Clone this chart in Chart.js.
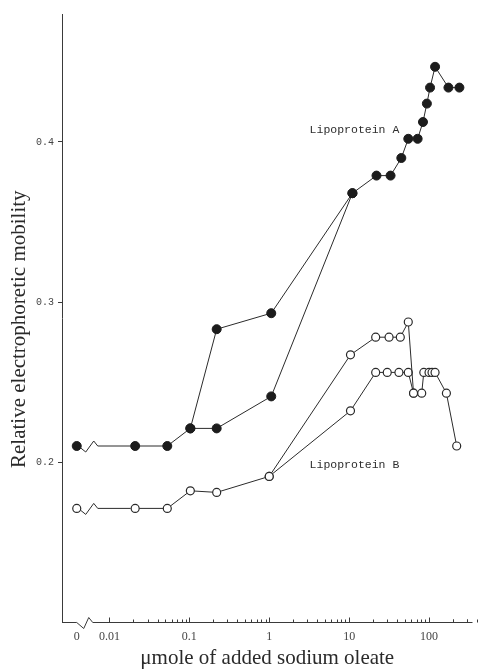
<!DOCTYPE html>
<html>
<head>
<meta charset="utf-8">
<script src="https://cdn.jsdelivr.net/npm/chart.js@4.4.0/dist/chart.umd.min.js"></script>
<style>
html, body { margin: 0; padding: 0; background: #fff; }
canvas { display: block; }
</style>
</head>
<body>
<canvas id="chart" width="478" height="671"></canvas>
<script>
// Data: x = umole of added sodium oleate (0 = none added), y = relative mobility
// Lipoprotein A, upper path and the lower branch that rejoins at ~10
const aUpperX = [0, 0.021, 0.053, 0.103, 0.22, 1.06, 11, 22, 33, 45, 55, 72, 84, 94, 103, 119, 175, 240];
const aUpperY = [0.21, 0.21, 0.21, 0.221, 0.283, 0.293, 0.368, 0.379, 0.379, 0.39, 0.402, 0.402, 0.4125, 0.424, 0.434, 0.447, 0.434, 0.434];
const aLowerX = [0.103, 0.22, 1.06, 11];
const aLowerY = [0.221, 0.221, 0.241, 0.368];

// Lipoprotein B, upper and lower paths
const bUpperX = [0, 0.021, 0.053, 0.103, 0.22, 1.0, 10.4, 21.5, 31.6, 43.7, 55, 64];
const bUpperY = [0.171, 0.171, 0.171, 0.182, 0.181, 0.191, 0.267, 0.278, 0.278, 0.278, 0.2875, 0.243];
const bLowerX = [1.0, 10.4, 21.5, 30, 42, 55, 64, 81, 86, 100, 109, 119, 165, 222];
const bLowerY = [0.191, 0.232, 0.256, 0.256, 0.256, 0.256, 0.243, 0.243, 0.256, 0.256, 0.256, 0.256, 0.243, 0.21];

// Axes
const xMajorTicks = [0, 0.01, 0.1, 1, 10, 100];
const xMajorLabels = ['0', '0.01', '0.1', '1', '10', '100'];
const yTicks = [0.2, 0.3, 0.4];
const seriesNames = ['Lipoprotein A', 'Lipoprotein B'];
const yTitle = 'Relative electrophoretic mobility';

// the "0" point sits left of the axis break
const ZERO_AT = 0.0039;
const LINE = '#2b2b2b';

const toPts = (xs, ys) => xs.map((x, i) => ({ x: x === 0 ? ZERO_AT : x, y: ys[i] }));

const xMinor = [];
for (let e = -2; e <= 2; e++) {
  for (let m = 2; m <= 9; m++) xMinor.push(m * Math.pow(10, e));
}
xMinor.push(200, 300);
const xMajorPos = xMajorTicks.map(v => v === 0 ? ZERO_AT : v);

const hideFirst = { borderColor: c => c.p0DataIndex === 0 ? 'rgba(0,0,0,0)' : LINE };

function filled(label, pts, hide) {
  return {
    label: label, data: pts, showLine: true,
    borderColor: LINE, borderWidth: 1,
    pointRadius: 4.5, pointBackgroundColor: '#1c1c1c', pointBorderColor: '#1c1c1c', pointBorderWidth: 1,
    segment: hide ? hideFirst : {}
  };
}
function open(label, pts, hide) {
  return {
    label: label, data: pts, showLine: true,
    borderColor: LINE, borderWidth: 1,
    pointRadius: 4, pointBackgroundColor: '#fff', pointBorderColor: '#2a2a2a', pointBorderWidth: 1.2,
    segment: hide ? hideFirst : {}
  };
}

const extras = {
  id: 'extras',
  afterDatasetsDraw(chart) {
    const ctx = chart.ctx;
    const xs = chart.scales.x, ys = chart.scales.y;
    ctx.save();
    ctx.strokeStyle = LINE;
    ctx.lineWidth = 1;
    // zigzag break between "0" and the first real dose
    [0, 2].forEach(di => {
      const pts = chart.getDatasetMeta(di).data;
      const p0 = pts[0], p1 = pts[1];
      ctx.beginPath();
      ctx.moveTo(p0.x + 4, p0.y + 2);
      ctx.lineTo(p0.x + 9, p0.y + 6);
      ctx.lineTo(p0.x + 17, p0.y - 5);
      ctx.lineTo(p0.x + 21, p0.y);
      ctx.lineTo(p1.x - 4.5, p1.y);
      ctx.stroke();
    });
    // series labels
    ctx.fillStyle = '#2e2e2e';
    ctx.font = '11.5px "Liberation Mono"';
    ctx.textBaseline = 'middle';
    ctx.fillText(seriesNames[0], xs.getPixelForValue(3.2), ys.getPixelForValue(0.4075));
    ctx.fillText(seriesNames[1], xs.getPixelForValue(3.2), ys.getPixelForValue(0.198));

    // y title (sits a little below the plot centre in the original)
    ctx.save();
    ctx.translate(25, ys.getPixelForValue(0.283));
    ctx.rotate(-Math.PI / 2);
    ctx.font = '21px "Liberation Serif"';
    ctx.fillStyle = '#2a2a2a';
    ctx.textAlign = 'center';
    ctx.textBaseline = 'alphabetic';
    ctx.fillText(yTitle, 0, 0);
    ctx.restore();

    // x axis with break
    const a = chart.chartArea;
    const b = a.bottom + 0.5;
    const z = xs.getPixelForValue(ZERO_AT);
    ctx.strokeStyle = '#3a3a3a';
    ctx.beginPath();
    ctx.moveTo(a.left, b);
    ctx.lineTo(z, b);
    ctx.lineTo(z + 7, b + 6);
    ctx.lineTo(z + 12, b - 5);
    ctx.lineTo(z + 16, b);
    ctx.lineTo(a.right, b);
    ctx.stroke();
    ctx.beginPath();
    xMajorPos.slice(1).forEach(v => {
      const px = Math.round(xs.getPixelForValue(v)) + 0.5;
      ctx.moveTo(px, b); ctx.lineTo(px, b - 5);
    });
    xMinor.forEach(v => {
      const px = Math.round(xs.getPixelForValue(v)) + 0.5;
      ctx.moveTo(px, b); ctx.lineTo(px, b - 3);
    });
    ctx.stroke();
    ctx.restore();
  }
};

const ctx = document.getElementById('chart').getContext('2d');
const chart = new Chart(ctx, {
  type: 'scatter',
  data: {
    datasets: [
      filled(seriesNames[0], toPts(aUpperX, aUpperY), true),
      filled(seriesNames[0], toPts(aLowerX, aLowerY), false),
      open(seriesNames[1], toPts(bUpperX, bUpperY), true),
      open(seriesNames[1], toPts(bLowerX, bLowerY), false)
    ]
  },
  options: {
    responsive: false,
    animation: false,
    layout: { padding: { top: 14, right: 0, left: 0, bottom: 0 } },
    plugins: {
      legend: { display: false },
      tooltip: { enabled: false }
    },
    scales: {
      x: {
        type: 'logarithmic',
        min: 0.00255,
        max: 350,
        afterBuildTicks: s => { s.ticks = xMajorPos.map(v => ({ value: v })); },
        afterFit: s => { s.height = 49; },
        grid: { display: false },
        border: { display: false },
        ticks: {
          autoSkip: false, maxRotation: 0, padding: 0,
          color: '#444',
          font: { family: '"Liberation Serif"', size: 12 },
          callback: (v, i) => xMajorLabels[i]
        },
        title: {
          display: true,
          text: 'μmole of added sodium oleate',
          color: '#2a2a2a',
          font: { family: '"Liberation Serif"', size: 21 },
          padding: { top: 0, bottom: 0 }
        }
      },
      y: {
        min: 0.1,
        max: 0.48,
        afterBuildTicks: s => { s.ticks = yTicks.map(v => ({ value: v })); },
        afterFit: s => { s.width = 62; },
        grid: { drawOnChartArea: false, drawTicks: true, tickLength: 4, color: '#3a3a3a' },
        border: { display: true, color: '#3a3a3a', width: 1 },
        ticks: {
          padding: 4,
          color: '#444',
          font: { family: '"Liberation Mono"', size: 10 },
          callback: v => v.toFixed(1)
        },
        title: { display: false }
      }
    }
  },
  plugins: [extras]
});
</script>
</body>
</html>
